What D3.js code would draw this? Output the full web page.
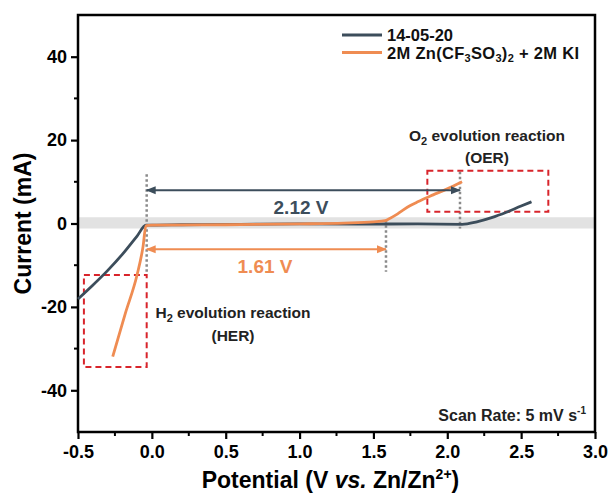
<!DOCTYPE html>
<html>
<head>
<meta charset="utf-8">
<script src="https://cdn.jsdelivr.net/npm/d3@7"></script>
<style>
  body { margin: 0; background: #fff; }
  text { font-family: "Liberation Sans", Arial, sans-serif; font-weight: bold; }
</style>
</head>
<body>
<div id="chart"></div>
<script>
// LSV curves, potential (V vs Zn/Zn2+) and current (mA)
var darkV = [-0.5, -0.4, -0.3, -0.2, -0.1, -0.04, 0.2, 0.6, 1.0, 1.4, 1.8, 2.1, 2.2, 2.3, 2.4, 2.5, 2.57];
var darkI = [-18.1, -14.8, -11.3, -7.4, -3.0, -0.4, -0.3, -0.2, -0.1, -0.15, -0.1, -0.2, 0.4, 1.4, 2.7, 4.2, 5.2];
var orangeV = [-0.265, -0.18, -0.1, -0.06, -0.04, 0.0, 0.5, 1.0, 1.3, 1.5, 1.58, 1.6, 1.65, 1.7, 1.75, 1.8, 1.9, 2.0, 2.1];
var orangeI = [-31.9, -21.6, -12.3, -5.6, -0.5, -0.4, -0.3, -0.1, 0.1, 0.4, 0.7, 1.0, 2.0, 3.2, 4.3, 5.2, 6.8, 8.3, 10.0];

var seriesNames = ["14-05-20", "2M Zn(CF3SO3)2 + 2M KI"];
var xTicks = [-0.5, 0.0, 0.5, 1.0, 1.5, 2.0, 2.5, 3.0];
var yTicks = [-40, -20, 0, 20, 40];

var darkCol = "#3c4d5b", orangeCol = "#ef8c52";

var W = 611, H = 493;
var m = {left: 78, top: 15, right: 16, bottom: 61};
var pw = W - m.left - m.right, ph = H - m.top - m.bottom;

var svg = d3.select("#chart").append("svg").attr("width", W).attr("height", H);

var defs = svg.append("defs");
[["arDark", darkCol], ["arOrange", orangeCol]].forEach(function(a) {
  defs.append("marker")
    .attr("id", a[0])
    .attr("viewBox", "0 -5 10 10")
    .attr("refX", 9).attr("refY", 0)
    .attr("markerWidth", 5).attr("markerHeight", 5)
    .attr("markerUnits", "strokeWidth")
    .attr("orient", "auto-start-reverse")
    .append("path").attr("d", "M0,-4L10,0L0,4Z").attr("fill", a[1]);
});

var g = svg.append("g").attr("transform", "translate(" + m.left + "," + m.top + ")");

var x = d3.scaleLinear().domain([-0.5, 3.0]).range([0, pw]);
var y = d3.scaleLinear().domain([-50, 50]).range([ph, 0]);

// grey band around zero current
g.append("rect")
  .attr("x", 0).attr("width", pw)
  .attr("y", y(1.5)).attr("height", y(-1.2) - y(1.5))
  .attr("fill", "#e2e2e2");

// minor ticks
var xMinor = d3.range(-0.25, 3.0, 0.5);
var yMinor = [-30, -10, 10, 30];
g.selectAll(".xminor").data(xMinor).enter().append("line")
  .attr("x1", function(d) { return x(d); }).attr("x2", function(d) { return x(d); })
  .attr("y1", ph).attr("y2", ph + 4)
  .attr("stroke", "#000").attr("stroke-width", 2);
g.selectAll(".yminor").data(yMinor).enter().append("line")
  .attr("y1", function(d) { return y(d); }).attr("y2", function(d) { return y(d); })
  .attr("x1", 0).attr("x2", -4)
  .attr("stroke", "#000").attr("stroke-width", 2);

var fx = d3.format(".1f"), fy = d3.format("d");
var xAxis = g.append("g").attr("transform", "translate(0," + ph + ")")
  .call(d3.axisBottom(x).tickValues(xTicks).tickFormat(function(d) { return fx(d).replace("\u2212", "-"); }).tickSize(7).tickPadding(6));
var yAxis = g.append("g")
  .call(d3.axisLeft(y).tickValues(yTicks).tickFormat(function(d) { return fy(d).replace("\u2212", "-"); }).tickSize(7).tickPadding(4));
[xAxis, yAxis].forEach(function(a) {
  a.select(".domain").remove();
  a.selectAll(".tick line").attr("stroke", "#000").attr("stroke-width", 2.2);
  a.selectAll(".tick text").attr("fill", "#000").style("font-size", "18px").style("font-family", "Liberation Sans, Arial").style("font-weight", "bold");
});

// frame
g.append("rect").attr("x", 0).attr("y", 0).attr("width", pw).attr("height", ph)
  .attr("fill", "none").attr("stroke", "#000").attr("stroke-width", 2.5);

// dotted guide lines
var guides = [[-0.035, 11.8, -11.8], [1.585, 0.8, -11.6], [2.086, 12.4, -1.2]];
g.selectAll(".guide").data(guides).enter().append("line")
  .attr("x1", function(d) { return x(d[0]); }).attr("x2", function(d) { return x(d[0]); })
  .attr("y1", function(d) { return y(d[1]); }).attr("y2", function(d) { return y(d[2]); })
  .attr("stroke", "#8a8a8a").attr("stroke-width", 2.5).attr("stroke-dasharray", "2.5,2.5");

// red dashed boxes
var boxes = [[-0.46, -0.035, -12.35, -34.4], [1.865, 2.684, 12.66, 2.83]];
g.selectAll(".box").data(boxes).enter().append("rect")
  .attr("x", function(d) { return x(d[0]); })
  .attr("width", function(d) { return x(d[1]) - x(d[0]); })
  .attr("y", function(d) { return y(d[2]); })
  .attr("height", function(d) { return y(d[3]) - y(d[2]); })
  .attr("fill", "none").attr("stroke", "#d8242b").attr("stroke-width", 2).attr("stroke-dasharray", "6,4");

// curves
var line = d3.line().x(function(d) { return x(d[0]); }).y(function(d) { return y(d[1]); }).curve(d3.curveMonotoneX);
g.append("path").datum(d3.zip(darkV, darkI)).attr("d", line)
  .attr("fill", "none").attr("stroke", darkCol).attr("stroke-width", 2.8).attr("stroke-linejoin", "round");
g.append("path").datum(d3.zip(orangeV, orangeI)).attr("d", line)
  .attr("fill", "none").attr("stroke", orangeCol).attr("stroke-width", 2.8).attr("stroke-linejoin", "round");

// window arrows
g.append("line").attr("x1", x(-0.035)).attr("x2", x(2.086)).attr("y1", y(8.0)).attr("y2", y(8.0))
  .attr("stroke", darkCol).attr("stroke-width", 2)
  .attr("marker-start", "url(#arDark)").attr("marker-end", "url(#arDark)");
g.append("line").attr("x1", x(-0.035)).attr("x2", x(1.585)).attr("y1", y(-6.2)).attr("y2", y(-6.2))
  .attr("stroke", orangeCol).attr("stroke-width", 2)
  .attr("marker-start", "url(#arOrange)").attr("marker-end", "url(#arOrange)");

g.append("text").attr("x", 301 - m.left).attr("y", 214 - m.top).attr("text-anchor", "middle")
  .attr("fill", darkCol).style("font-size", "19px").text("2.12 V");
g.append("text").attr("x", 265 - m.left).attr("y", 273 - m.top).attr("text-anchor", "middle")
  .attr("fill", orangeCol).style("font-size", "19px").text("1.61 V");

// reaction labels
function reaction(cx, top, el) {
  var t = g.append("text").attr("x", cx - m.left).attr("y", top - m.top).attr("text-anchor", "middle")
    .attr("fill", "#222").style("font-size", "15.5px");
  t.append("tspan").text(el);
  t.append("tspan").attr("dy", 4).style("font-size", "11px").text("2");
  t.append("tspan").attr("dy", -4).text(" evolution reaction");
}
reaction(233, 318, "H");
g.append("text").attr("x", 233 - m.left).attr("y", 341 - m.top).attr("text-anchor", "middle")
  .attr("fill", "#222").style("font-size", "15.5px").text("(HER)");
reaction(487, 141, "O");
g.append("text").attr("x", 487 - m.left).attr("y", 163 - m.top).attr("text-anchor", "middle")
  .attr("fill", "#222").style("font-size", "15.5px").text("(OER)");

// scan rate
var sr = g.append("text").attr("x", 586 - m.left).attr("y", 421 - m.top).attr("text-anchor", "end")
  .attr("fill", "#222").style("font-size", "16px");
sr.append("tspan").text("Scan Rate: 5 mV s");
sr.append("tspan").attr("dy", -7).style("font-size", "10px").text("-1");

// legend
var lg = svg.append("g");
[darkCol, orangeCol].forEach(function(c, i) {
  lg.append("line").attr("x1", 342).attr("x2", 382).attr("y1", 35 + i * 17.5).attr("y2", 35 + i * 17.5)
    .attr("stroke", c).attr("stroke-width", 2.8);
});
lg.append("text").attr("x", 387).attr("y", 40.5).attr("fill", "#111").style("font-size", "16.5px").text(seriesNames[0]);
var l2 = lg.append("text").attr("x", 387).attr("y", 58.5).attr("fill", "#111").style("font-size", "16.5px")
  .style("letter-spacing", "0.3px");
l2.append("tspan").text("2M Zn(CF");
l2.append("tspan").attr("dy", 3).style("font-size", "11px").text("3");
l2.append("tspan").attr("dy", -3).text("SO");
l2.append("tspan").attr("dy", 3).style("font-size", "11px").text("3");
l2.append("tspan").attr("dy", -3).text(")");
l2.append("tspan").attr("dy", 3).style("font-size", "11px").text("2");
l2.append("tspan").attr("dy", -3).text(" + 2M KI");

// axis titles
svg.append("text").attr("transform", "translate(31," + (m.top + ph / 2) + ") rotate(-90)")
  .attr("text-anchor", "middle").attr("fill", "#000").style("font-size", "23px").text("Current (mA)");
var xt = svg.append("text").attr("x", m.left + pw / 2 - 6).attr("y", 488).attr("text-anchor", "middle")
  .attr("fill", "#000").style("font-size", "23px");
xt.append("tspan").text("Potential (V ");
xt.append("tspan").style("font-style", "italic").text("vs.");
xt.append("tspan").text(" Zn/Zn");
xt.append("tspan").attr("dy", -9).style("font-size", "14px").text("2+");
xt.append("tspan").attr("dy", 9).text(")");
</script>
</body>
</html>
